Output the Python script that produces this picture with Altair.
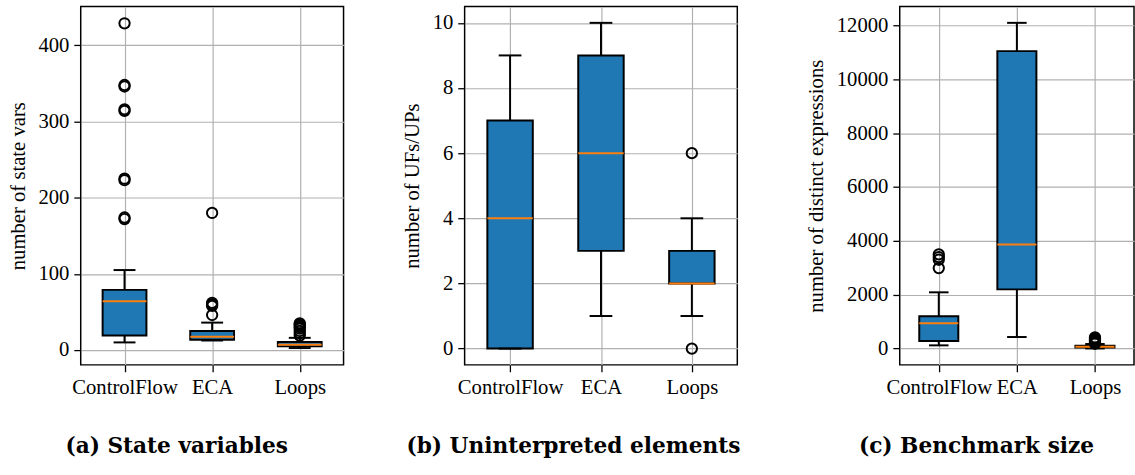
import altair as alt
import pandas as pd

cats = ["ControlFlow", "ECA", "Loops"]
positions = [1, 2, 3]

# (a) State variables
a_lo = [10, 12.5, 2.6]
a_q1 = [19, 13.5, 4.8]
a_med = [64, 17.5, 7]
a_q3 = [79, 25, 10.5]
a_hi = [105, 36, 16]
a_out_cf = [172, 174, 223, 225, 314, 316, 346, 348, 429]
a_out_eca = [46, 58, 60, 62, 180]
a_out_loops = [19, 22, 25, 28, 30, 32, 34, 35]

# (b) Uninterpreted elements
b_lo = [0, 1, 1]
b_q1 = [0, 3, 2]
b_med = [4, 6, 2]
b_q3 = [7, 9, 3]
b_hi = [9, 10, 4]
b_out_cf = []
b_out_eca = []
b_out_loops = [0, 6]

# (c) Benchmark size
c_lo = [120, 430, 5]
c_q1 = [280, 2200, 40]
c_med = [940, 3870, 70]
c_q3 = [1200, 11050, 110]
c_hi = [2090, 12100, 170]
c_out_cf = [2990, 3300, 3400, 3500]
c_out_eca = []
c_out_loops = [180, 220, 260, 300, 340, 380, 420]

FONT = "Liberation Serif"
CAP_FONT = "DejaVu Serif"
BLUE = "#1f77b4"
ORANGE = "#ff7f0e"

label_expr = "[" + ",".join("'%s'" % c for c in cats) + "][round(datum.value) - 1]"


def panel(lo, q1, med, q3, hi, outs, domain, ticks, ytitle, caption, width, cap_dx, title_pad):
    box_df = pd.DataFrame({"pos": positions, "lo": lo, "q1": q1, "med": med, "q3": q3, "hi": hi})
    op, ov = [], []
    for p, lst in zip(positions, outs):
        for v in lst:
            op.append(p)
            ov.append(v)
    out_df = pd.DataFrame({"pos": op, "v": ov})

    xscale = alt.Scale(domain=[0.5, 3.5], nice=False, zero=False)
    xaxis = alt.Axis(values=positions, labelExpr=label_expr, title=None, grid=True)
    yscale = alt.Scale(domain=domain, nice=False, zero=False)
    yaxis = alt.Axis(values=ticks, format="d", grid=True, titlePadding=title_pad)

    def X(f):
        return alt.X(f"{f}:Q", scale=xscale, axis=xaxis)

    def Y(f):
        return alt.Y(f"{f}:Q", scale=yscale, axis=yaxis, title=ytitle)

    base = alt.Chart(box_df).transform_calculate(
        left="datum.pos - 0.25", right="datum.pos + 0.25",
        cl="datum.pos - 0.125", cr="datum.pos + 0.125")

    box = base.mark_rect(fill=BLUE, stroke="black", strokeWidth=2).encode(
        x=X("left"), x2="right", y=Y("q1"), y2="q3")
    w_lo = base.mark_rule(color="black", strokeWidth=2).encode(x=X("pos"), y=Y("lo"), y2="q1")
    w_hi = base.mark_rule(color="black", strokeWidth=2).encode(x=X("pos"), y=Y("q3"), y2="hi")
    c_lo_ = base.mark_rule(color="black", strokeWidth=2).encode(x=X("cl"), x2="cr", y=Y("lo"))
    c_hi_ = base.mark_rule(color="black", strokeWidth=2).encode(x=X("cl"), x2="cr", y=Y("hi"))
    median = base.mark_rule(color=ORANGE, strokeWidth=2).encode(x=X("left"), x2="right", y=Y("med"))
    layers = [box, w_lo, w_hi, c_lo_, c_hi_, median]
    if len(out_df):
        fl = alt.Chart(out_df).mark_point(shape="circle", filled=False, stroke="black",
                                          strokeWidth=2, size=110, opacity=1).encode(
            x=X("pos"), y=Y("v"))
        layers.append(fl)
    return alt.layer(*layers).properties(
        width=width, height=364,
        title=alt.TitleParams(caption, orient="bottom", anchor="middle", frame="group",
                              font=CAP_FONT, fontSize=22, fontWeight="bold", color="black",
                              offset=40, dx=cap_dx))


p1 = panel(a_lo, a_q1, a_med, a_q3, a_hi, [a_out_cf, a_out_eca, a_out_loops],
           [-19.5, 451], [0, 100, 200, 300, 400], "number of state vars",
           "(a) State variables", 267, -36, 10)
p2 = panel(b_lo, b_q1, b_med, b_q3, b_hi, [b_out_cf, b_out_eca, b_out_loops],
           [-0.5, 10.5], [0, 2, 4, 6, 8, 10], "number of UFs/UPs",
           "(b) Uninterpreted elements", 277, -28, 10)
p3 = panel(c_lo, c_q1, c_med, c_q3, c_hi, [c_out_cf, c_out_eca, c_out_loops],
           [-605, 12705], [0, 2000, 4000, 6000, 8000, 10000, 12000], "number of distinct expressions",
           "(c) Benchmark size", 238, -41, 10)

inner = alt.hconcat(p1, p2, spacing=57)
chart = alt.hconcat(inner, p3, spacing=64).properties(
    padding={"left": 6, "top": 2, "right": 0, "bottom": 0},
    background="white"
).configure_view(stroke="black", strokeWidth=1.5).configure_axis(
    labelFont=FONT, labelFontSize=21, labelColor="black",
    titleFont=FONT, titleFontSize=21, titleColor="black", titleFontWeight="normal",
    tickColor="black", tickWidth=1.3, tickSize=7, labelPadding=5,
    domain=False, gridColor="#b0b0b0", gridWidth=1.2, gridOpacity=1
)

chart.save("out.html", embed_options={"renderer": "svg", "actions": False})
